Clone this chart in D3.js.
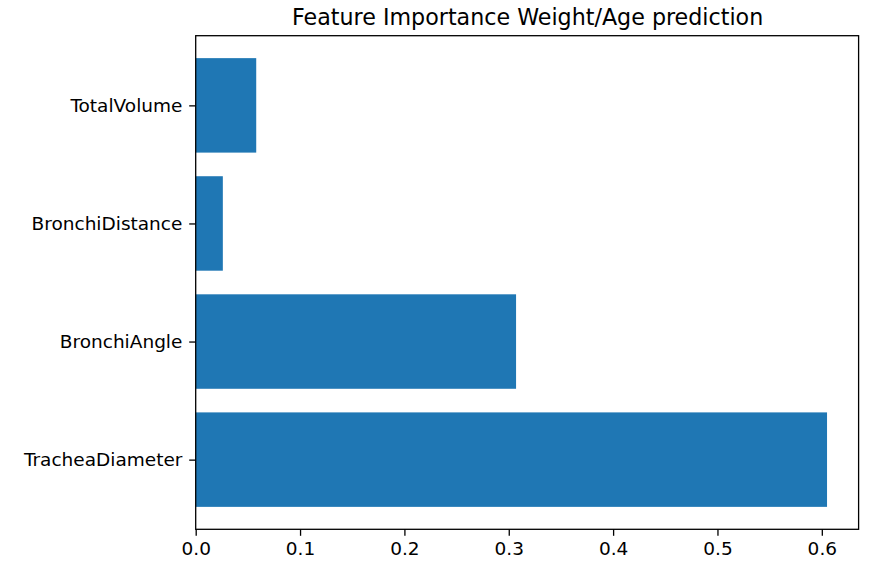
<!DOCTYPE html>
<html><head><meta charset="utf-8">
<script src="https://cdn.jsdelivr.net/npm/d3@7"></script>
<style>body{margin:0;background:#fff;} svg{display:block;font-family:"DejaVu Sans",sans-serif;}</style>
</head><body>
<script>
const categories = ["TracheaDiameter","BronchiAngle","BronchiDistance","TotalVolume"];
const values = [0.605, 0.307, 0.026, 0.058];
const xTicks = [0.0,0.1,0.2,0.3,0.4,0.5,0.6];
const title = "Feature Importance Weight/Age prediction";

const W=872,H=565;
const L=195.7,R=858.6,T=35.7,B=529.3;
const svg=d3.select("body").append("svg").attr("width",W).attr("height",H);
const xmax=d3.max(values)*1.05;
const x=d3.scaleLinear().domain([0,xmax]).range([L,R]);
const y=d3.scaleLinear().domain([-0.59,3.59]).range([B,T]);

svg.selectAll("rect.bar").data(values).enter().append("rect")
  .attr("class","bar")
  .attr("x",x(0))
  .attr("y",(d,i)=>y(i+0.4))
  .attr("width",d=>x(d)-x(0))
  .attr("height",(d,i)=>y(i-0.4)-y(i+0.4))
  .attr("fill","#1f77b4");

const xAxis=d3.axisBottom(x).tickValues(xTicks).tickFormat(d3.format(".1f")).tickSizeOuter(0).tickSize(6.5).tickPadding(6.5);
const gx=svg.append("g").attr("transform",`translate(0,${B})`).call(xAxis);
const yAxis=d3.axisLeft(y).tickValues(d3.range(categories.length)).tickFormat(i=>categories[i]).tickSizeOuter(0).tickSize(6.5).tickPadding(6.8);
const gy=svg.append("g").attr("transform",`translate(${L},0)`).call(yAxis);
[gx,gy].forEach(g=>{
  g.select(".domain").remove();
  g.selectAll(".tick line").attr("stroke","#000").attr("stroke-width",1.3);
  g.selectAll(".tick text").attr("fill","#000").style("font-size","18.5px").style("font-family","DejaVu Sans");
});
svg.append("rect").attr("x",L).attr("y",T).attr("width",R-L).attr("height",B-T)
  .attr("fill","none").attr("stroke","#000").attr("stroke-width",1.3);
svg.append("text").attr("x",(L+R)/2+0.5).attr("y",T-10.5).attr("text-anchor","middle")
  .style("font-size","22.2px").attr("fill","#000").text(title);
</script>
</body></html>
